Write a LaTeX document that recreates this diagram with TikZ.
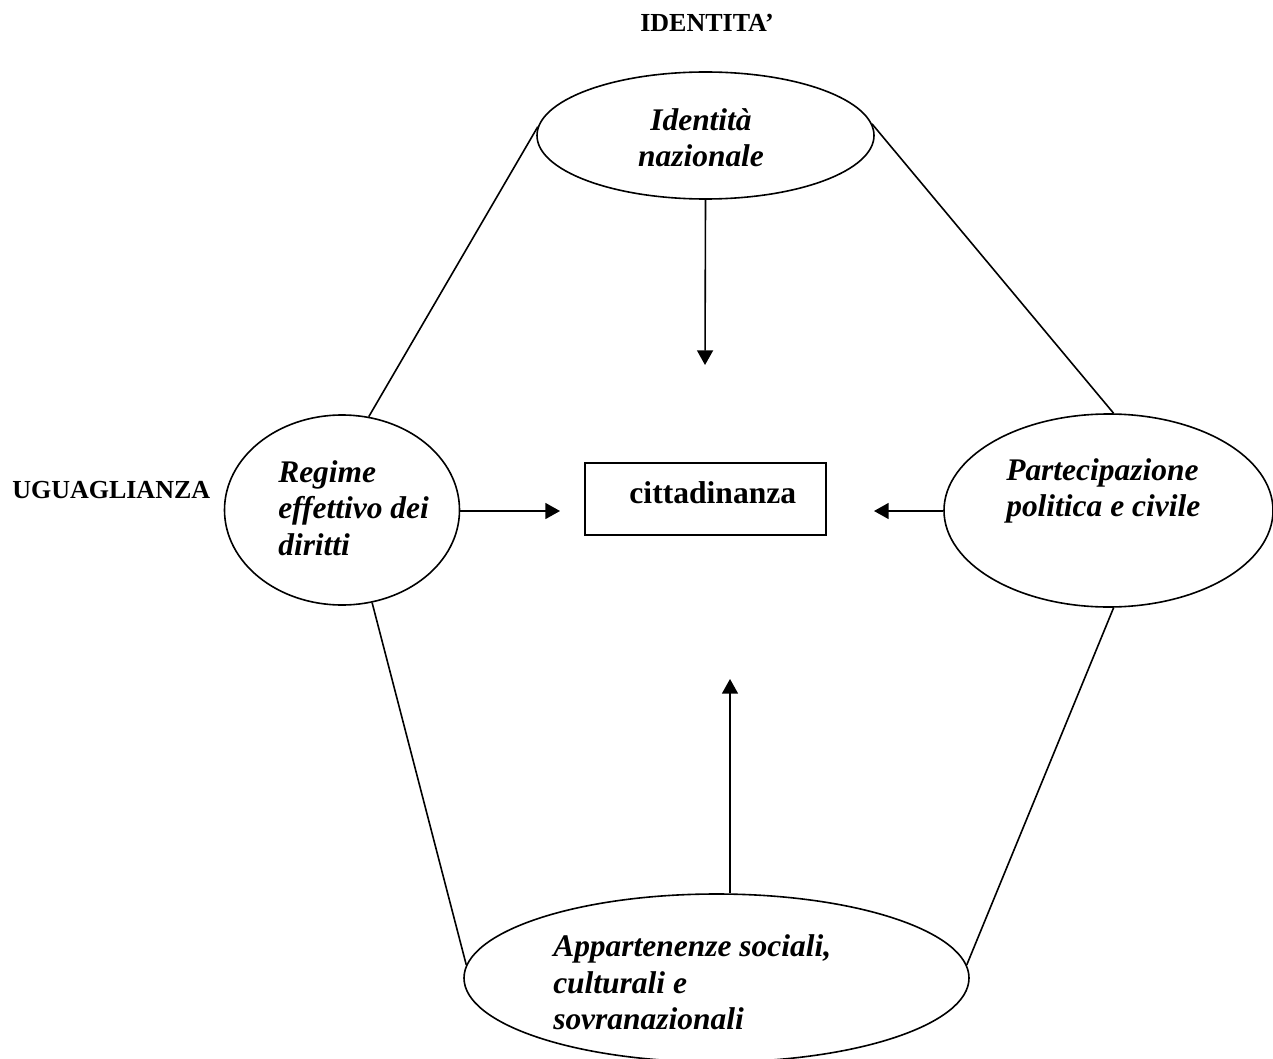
\documentclass[tikz,border=0pt]{standalone}
\usepackage{fontspec}
\setmainfont{Liberation Serif}
\usepackage{tikz}
\usetikzlibrary{shapes}
\usetikzlibrary{arrows.meta}
\tikzstyle{blob} = [ellipse, draw=black, line width=1.2pt, inner sep=0pt]
\tikzstyle{cell} = [rectangle, draw=black, line width=1.4pt, inner sep=0pt, 
font=\bfseries\fontsize{23.7}{27}\selectfont]
\tikzstyle{bubbletext} = [inner sep=0pt, align=left, font=\bfseries\itshape\fontsize{23.6}{27.25}\selectfont]
\tikzstyle{headtext} = [inner sep=0pt, font=\bfseries\fontsize{19.5}{23}\selectfont]
\tikzstyle{link} = [line width=1.2pt]
\tikzstyle{arrow} = [line width=1.2pt, -{Triangle[width=12pt, length=11pt]}]
\begin{document}
\begin{tikzpicture}[x=0.75pt, y=-0.75pt]
  \useasboundingbox (0,0) rectangle (1273,1059);

  \node(idlabel)[headtext, anchor=base] at (707,32) {IDENTITA’};
  \node(uglabel)[headtext, anchor=base west] at (12,498) {UGUAGLIANZA};

  \node(identita)[blob, minimum width=252.75pt, minimum height=95.25pt] at (705.5,135.5) {};
  \node(regime)[blob, minimum width=176.25pt, minimum height=142.5pt] at (342,510) {};
  \node(partecip)[blob, minimum width=246.75pt, minimum height=144.75pt] at (1108.5,510.5) {};
  \node(appart)[blob, minimum width=378.75pt, minimum height=126pt] at (716.5,978) {};
  \node(citt)[cell, minimum width=180.75pt, minimum height=54pt, text height=15pt, text depth=9pt] 
    at (705.5,499) {\hspace*{11pt}cittadinanza};

  \node(idtext)[bubbletext, align=center] at (701,137.5) {Identità\\nazionale};
  \node(regtext)[bubbletext, anchor=west] at (278,508) {Regime\\effettivo dei\\diritti};
  \node(partext)[bubbletext, anchor=west] at (1006,491) {Partecipazione\\politica e civile};
  \node(apptext)[bubbletext, anchor=west] at (553,982.5) {Appartenenze sociali,\\culturali e\\sovranazionali};

  \coordinate(downtip) at (705,365);
  \coordinate(uptip) at (730,679);
  \coordinate(lefttip) at (560,511);
  \coordinate(righttip) at (874,511);

  \draw[arrow] (identita.south) -- (downtip);
  \draw[arrow] (appart.north -| uptip) -- (uptip);
  \draw[arrow] (regime.east |- lefttip) -- (lefttip);
  \draw[arrow] (partecip.west |- righttip) -- (righttip);

  \draw[link] (identita.177) -- (regime.74);
  \draw[link] (identita.4) -- (partecip.87);
  \draw[link] (regime.-72) -- (appart.177);
  \draw[link] (partecip.-87) -- (appart.3);

\end{tikzpicture}
\end{document}
